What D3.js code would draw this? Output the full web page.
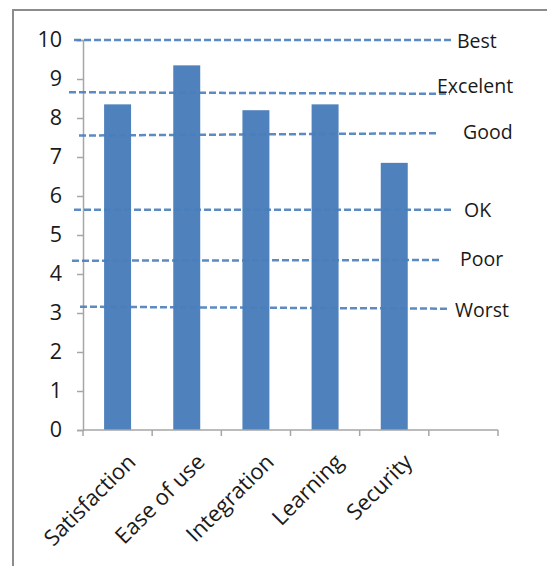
<!DOCTYPE html>
<html>
<head>
<meta charset="utf-8">
<script src="https://cdn.jsdelivr.net/npm/d3@7"></script>
<style>
  html, body { margin: 0; padding: 0; background: #fff; }
  svg { display: block; }
  text { font-family: "Open Sans", "Liberation Sans", sans-serif; fill: #1a1a1a; }
</style>
</head>
<body>
<svg id="chart" width="547" height="566"></svg>
<script>
// Ratings per aspect (last slot of the category axis is left empty)
const categories = ["Satisfaction", "Ease of use", "Integration", "Learning", "Security", ""];
const scores = [8.35, 9.35, 8.2, 8.35, 6.85];
const yTicks = [0, 1, 2, 3, 4, 5, 6, 7, 8, 9, 10];

// Reference levels drawn as dashed lines (value at the left and right end)
const levelNames = ["Best", "Excelent", "Good", "OK", "Poor", "Worst"];
const levelStart = [10, 8.66, 7.55, 5.65, 4.34, 3.16];
const levelEnd = [10, 8.62, 7.61, 5.65, 4.36, 3.11];

// Layout of the level lines and their captions (pixels)
const lineX0 = [74, 69, 79, 74, 72, 80];
const lineX1 = [453, 450, 438, 453, 439, 447];
const captionX = [457, 437, 463, 464, 460, 455];
const captionDy = [0, -8, -2, 0, -1, 1];

const svg = d3.select("#chart");
const plot = { left: 83, right: 498, top: 40, bottom: 430 };

// Outer frame
svg.append("rect")
  .attr("x", 13).attr("y", 10)
  .attr("width", 600).attr("height", 600)
  .attr("fill", "none")
  .attr("stroke", "#8c8c8c")
  .attr("stroke-width", 2);

const x = d3.scaleBand()
  .domain(d3.range(categories.length))
  .range([plot.left, plot.right])
  .paddingInner(0.61)
  .paddingOuter(0.305);

const y = d3.scaleLinear().domain([0, 10]).range([plot.bottom, plot.top]);

const axisColor = "#a6a6a6";

// Y axis
const yAxis = svg.append("g")
  .attr("transform", `translate(${plot.left},0)`)
  .call(d3.axisLeft(y).tickValues(yTicks).tickSize(6).tickPadding(15).tickFormat(d3.format("d")));
yAxis.select(".domain").attr("stroke", axisColor).attr("stroke-width", 1.5);
yAxis.selectAll(".tick line").attr("stroke", axisColor).attr("stroke-width", 1.5);
yAxis.selectAll(".tick text")
  .style("font-size", "21.5px")
  .attr("fill", "#1a1a1a");

// Bars
svg.append("g").selectAll("rect")
  .data(scores)
  .join("rect")
  .attr("x", (d, i) => x(i))
  .attr("width", x.bandwidth())
  .attr("y", d => y(d))
  .attr("height", d => y(0) - y(d))
  .attr("fill", "#4f81bd");

// X axis with tick marks at the category boundaries
const step = x.step();
const boundaries = d3.range(categories.length + 1).map(i => plot.left + i * step);
const xAxis = svg.append("g");
xAxis.append("line")
  .attr("x1", plot.left).attr("x2", plot.right)
  .attr("y1", plot.bottom).attr("y2", plot.bottom)
  .attr("stroke", axisColor).attr("stroke-width", 1.5);
xAxis.selectAll("line.tick")
  .data(boundaries)
  .join("line")
  .attr("class", "tick")
  .attr("x1", d => d).attr("x2", d => d)
  .attr("y1", plot.bottom).attr("y2", plot.bottom + 6)
  .attr("stroke", axisColor).attr("stroke-width", 1.5);

// Rotated category labels
xAxis.selectAll("text")
  .data(categories.filter(c => c !== ""))
  .join("text")
  .attr("transform", (d, i) => `translate(${x(i) + x.bandwidth() / 2 + 13},${plot.bottom + 27}) rotate(-45)`)
  .attr("text-anchor", "end")
  .attr("dominant-baseline", "central")
  .style("font-size", "22px")
  .text(d => d);

// Level lines
const levels = svg.append("g");
levels.selectAll("line")
  .data(levelNames)
  .join("line")
  .attr("x1", (d, i) => lineX0[i])
  .attr("x2", (d, i) => lineX1[i])
  .attr("y1", (d, i) => y(levelStart[i]))
  .attr("y2", (d, i) => y(levelEnd[i]))
  .attr("stroke", "#4a7ebb")
  .attr("stroke-opacity", 0.9)
  .attr("stroke-width", 2.5)
  .attr("stroke-dasharray", "7,3");

levels.selectAll("text")
  .data(levelNames)
  .join("text")
  .attr("x", (d, i) => captionX[i])
  .attr("y", (d, i) => y(levelEnd[i]) + captionDy[i])
  .attr("dominant-baseline", "central")
  .style("font-size", "19.5px")
  .text(d => d);
</script>
</body>
</html>
